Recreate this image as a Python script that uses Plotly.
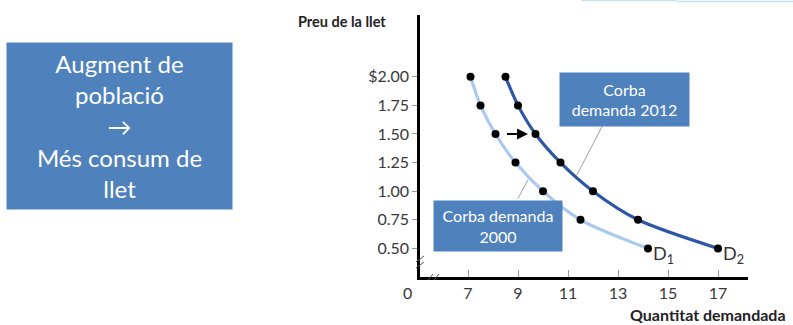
import plotly.graph_objects as go

# Milk demand schedules: price (USD) and quantity demanded
prices = [2.00, 1.75, 1.50, 1.25, 1.00, 0.75, 0.50]
qty_2000 = [7.1, 7.5, 8.1, 8.9, 10.0, 11.5, 14.2]
qty_2012 = [8.5, 9.0, 9.7, 10.7, 12.0, 13.8, 17.0]

x_ticks = [7, 9, 11, 13, 15, 17]
y_ticks = [0.50, 0.75, 1.00, 1.25, 1.50, 1.75, 2.00]
y_tick_text = ["0.50", "0.75", "1.00", "1.25", "1.50", "1.75", "$2.00"]

FONT = "Lato, 'Open Sans', sans-serif"
BOX_BLUE = "#4F81BD"
LIGHT = "#A9C9EE"
DARK = "#2F56A6"
TICK_TXT = "#383838"

fig = go.Figure()

for q, col in [(qty_2000, LIGHT), (qty_2012, DARK)]:
    fig.add_trace(go.Scatter(
        x=q, y=prices, mode="lines",
        line=dict(color=col, width=3.2, shape="spline", smoothing=0.8),
        hoverinfo="skip", showlegend=False))
for q in (qty_2000, qty_2012):
    fig.add_trace(go.Scatter(
        x=q, y=prices, mode="markers",
        marker=dict(color="black", size=8),
        showlegend=False))

ann = []
# shift arrow between the two curves at $1.50
ann.append(dict(x=qty_2012[2] - 0.3, y=prices[2], ax=qty_2000[2] + 0.4, ay=prices[2],
                xref="x", yref="y", axref="x", ayref="y", text="",
                showarrow=True, arrowhead=2, arrowsize=1, arrowwidth=2.2,
                arrowcolor="black"))
# leader lines from the labels to the curves
ann.append(dict(x=11.35, y=1.14, ax=12.4, ay=1.58, xref="x", yref="y",
                axref="x", ayref="y", text="", showarrow=True, arrowhead=0,
                arrowwidth=1, arrowcolor="#A0A0A0"))
ann.append(dict(x=9.4, y=1.10, ax=8.96, ay=0.92, xref="x", yref="y",
                axref="x", ayref="y", text="", showarrow=True, arrowhead=0,
                arrowwidth=1, arrowcolor="#A0A0A0"))
# curve labels
ann.append(dict(x=13.26, y=1.80, xref="x", yref="y", text="Corba<br>demanda 2012",
                showarrow=False, bgcolor=BOX_BLUE, width=127, height=51,
                xanchor="center", yanchor="middle",
                font=dict(family=FONT, size=16, color="white")))
ann.append(dict(x=8.2, y=0.695, xref="x", yref="y", text="Corba demanda<br>2000",
                showarrow=False, bgcolor=BOX_BLUE, width=126, height=48,
                xanchor="center", yanchor="middle",
                font=dict(family=FONT, size=16, color="white")))
# D1 / D2
ann.append(dict(x=qty_2000[-1] + 0.12, y=prices[-1], xref="x", yref="y",
                text="D<sub>1</sub>", showarrow=False, xanchor="left", yanchor="top",
                yshift=8, font=dict(family=FONT, size=18, color="#333333")))
ann.append(dict(x=qty_2012[-1] + 0.12, y=prices[-1], xref="x", yref="y",
                text="D<sub>2</sub>", showarrow=False, xanchor="left", yanchor="top",
                yshift=8, font=dict(family=FONT, size=18, color="#333333")))
# origin label
ann.append(dict(x=(407 - 420) / 328, y=(277 - 292) / 262, xref="paper", yref="paper",
                text="0", showarrow=False, xanchor="center", yanchor="middle",
                font=dict(family=FONT, size=16, color=TICK_TXT)))
# axis titles
ann.append(dict(x=(296 - 420) / 328, y=(277 - 22) / 262, xref="paper", yref="paper",
                text="<b>Preu de la llet</b>",
                showarrow=False, xanchor="left", yanchor="middle",
                font=dict(family=FONT, size=14.5, color="#222222")))
ann.append(dict(x=(787 - 420) / 328, y=(277 - 325) / 262, xref="paper", yref="paper",
                text="<b>Quantitat demandada</b>", borderpad=0,
                showarrow=False, xanchor="right", yanchor="bottom",
                font=dict(family=FONT, size=16, color="#222222")))
# side message box
ann.append(dict(x=(119.5 - 420) / 328, y=(277 - 126) / 262, xref="paper", yref="paper",
                text="Augment de<br>població<br>→<br>Més consum de<br>llet",
                showarrow=False, bgcolor=BOX_BLUE, width=223, height=164,
                xanchor="center", yanchor="middle",
                font=dict(family=FONT, size=24, color="white")))

shapes = []
# axis break marks
for d in (0, 6):
    shapes.append(dict(type="line", xref="paper", yref="paper",
                       x0=-4 / 328, y0=(12 + d - 3) / 262,
                       x1=4 / 328, y1=(12 + d + 3) / 262,
                       line=dict(color="#555555", width=1)))
    shapes.append(dict(type="line", xref="paper", yref="paper",
                       x0=(8 + d) / 328, y0=-3 / 262,
                       x1=(13 + d) / 328, y1=3 / 262,
                       line=dict(color="#555555", width=1)))
# thin light edge at the top border
shapes.append(dict(type="line", xref="paper", yref="paper",
                   x0=(581 - 420) / 328, x1=(677 - 420) / 328,
                   y0=(277 - 0.5) / 262, y1=(277 - 0.5) / 262,
                   line=dict(color="#BFE3F0", width=1.2)))
shapes.append(dict(type="line", xref="paper", yref="paper",
                   x0=(677 - 420) / 328, x1=(793 - 420) / 328,
                   y0=(277 - 1.5) / 262, y1=(277 - 1.5) / 262,
                   line=dict(color="#BFE3F0", width=1.5)))

fig.update_layout(
    width=793, height=325,
    margin=dict(l=420, r=45, t=15, b=48),
    paper_bgcolor="white", plot_bgcolor="white",
    annotations=ann, shapes=shapes,
    xaxis=dict(range=[5.08, 18.2], tickvals=x_ticks, showgrid=False, zeroline=False,
               showline=True, linecolor="black", linewidth=2.5,
               ticks="inside", ticklen=7, tickcolor="#999999", tickwidth=1,
               tickfont=dict(family=FONT, size=16, color=TICK_TXT)),
    yaxis=dict(range=[0.25, 2.54], tickvals=y_ticks, ticktext=y_tick_text,
               showgrid=False, zeroline=False, showline=True, linecolor="black",
               linewidth=2.5, ticks="outside", ticklen=5, tickcolor="#999999",
               tickwidth=1, tickfont=dict(family=FONT, size=16, color=TICK_TXT)),
    showlegend=False,
)

fig.write_html("out.html")
